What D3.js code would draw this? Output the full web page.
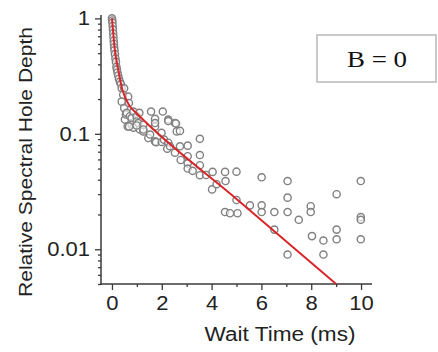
<!DOCTYPE html>
<html>
<head>
<meta charset="utf-8">
<script src="https://cdn.jsdelivr.net/npm/d3@7"></script>
<style>
  html, body { margin: 0; padding: 0; background: #fff; }
  svg { display: block; }
</style>
</head>
<body>
<svg id="chart" width="438" height="352"></svg>
<script>
// ---- Data ----
const dataX = [0.00,0.01,0.02,0.03,0.04,0.05,0.06,0.07,0.08,0.09,0.10,0.12,0.14,0.16,0.18,0.20,0.22,0.25,0.28,0.32,0.36,0.39,0.39,0.45,0.49,0.49,0.52,0.56,0.59,0.63,0.65,0.68,0.72,0.79,0.79,0.86,0.86,0.99,0.99,1.06,1.12,1.10,1.26,1.26,1.46,1.53,1.57,1.73,1.73,1.73,1.77,1.99,2.04,2.00,2.09,2.26,2.26,2.22,2.33,2.53,2.53,2.60,2.73,2.73,2.76,3.04,3.04,3.04,3.04,3.24,3.53,3.53,3.53,3.53,3.78,4.04,4.02,4.20,4.54,4.56,4.54,4.74,5.00,5.00,5.04,5.54,6.01,6.01,6.01,6.52,6.52,7.05,7.05,7.05,7.05,7.50,7.98,7.98,8.03,8.49,8.49,9.02,9.02,9.02,9.99,9.99,9.99,9.99,0.69,0.99,1.26,2.57,2.26,1.73];
const dataY = [1.00,0.96,0.92,0.86,0.80,0.74,0.69,0.64,0.60,0.56,0.53,0.49,0.45,0.42,0.38,0.36,0.34,0.32,0.30,0.283,0.27,0.249,0.19,0.218,0.248,0.167,0.133,0.147,0.152,0.116,0.21,0.185,0.142,0.137,0.12,0.156,0.113,0.142,0.128,0.124,0.109,0.152,0.105,0.12,0.092,0.0986,0.156,0.135,0.116,0.086,0.0847,0.102,0.156,0.085,0.089,0.133,0.0837,0.0743,0.078,0.124,0.0686,0.105,0.106,0.078,0.0593,0.079,0.064,0.0555,0.050,0.0478,0.0905,0.0655,0.0534,0.0438,0.044,0.0468,0.033,0.0366,0.0468,0.039,0.021,0.0205,0.047,0.0267,0.0205,0.024,0.042,0.024,0.021,0.021,0.0148,0.039,0.028,0.021,0.009,0.018,0.0236,0.021,0.013,0.0119,0.009,0.030,0.0148,0.0122,0.039,0.019,0.018,0.0122,0.116,0.118,0.109,0.123,0.129,0.124];

// fitted curve, points
const fitX = [0, 0.05, 0.10, 0.15, 0.20, 0.25, 0.32, 0.40, 0.50, 0.70, 1.0, 5.0, 9.0];
const fitY = [1.0, 0.75, 0.57, 0.47, 0.41, 0.36, 0.30, 0.25, 0.215, 0.175, 0.15, 0.0273, 0.005];

const xTicks = [0, 2, 4, 6, 8, 10];
const xMinorTicks = [1, 3, 5, 7, 9];
const yTicks = [1, 0.1, 0.01];
const yTickLabels = ["1", "0.1", "0.01"];
const yMinorTicks = [0.005,0.006,0.007,0.008,0.009,0.02,0.03,0.04,0.05,0.06,0.07,0.08,0.09,0.2,0.3,0.4,0.5,0.6,0.7,0.8,0.9];

const xTitle = "Wait Time (ms)";
const yTitle = "Relative Spectral Hole Depth";
const legendText = "B = 0";

// ---- Drawing ----
const svg = d3.select("#chart");
const axisColor = "#3a3a3a";
const font = "'Liberation Sans', Arial, sans-serif";

const x = d3.scaleLinear().domain([-0.44, 10.44]).range([101, 372]);
const y = d3.scaleLog().domain([0.005, 1.07]).range([284, 15]);

// y axis
const yAxisG = svg.append("g").attr("transform", "translate(101,0)");
yAxisG.call(d3.axisLeft(y).tickValues(yMinorTicks).tickSize(3).tickFormat(""));
yAxisG.call(g => g.select(".domain").remove());
const yMajor = svg.append("g").attr("transform", "translate(101,0)")
  .call(d3.axisLeft(y).tickValues(yTicks).tickSize(6).tickPadding(5)
    .tickFormat((d, i) => yTickLabels[i]));
yMajor.select(".domain").remove();

// x axis
const xAxisG = svg.append("g").attr("transform", "translate(0,284)");
xAxisG.call(d3.axisBottom(x).tickValues(xMinorTicks).tickSize(3).tickFormat(""));
xAxisG.select(".domain").remove();
const xMajor = svg.append("g").attr("transform", "translate(0,284)")
  .call(d3.axisBottom(x).tickValues(xTicks).tickSize(6).tickPadding(6).tickFormat(d3.format("d")));
xMajor.select(".domain").remove();

// spines
svg.append("line").attr("x1", 101).attr("x2", 101).attr("y1", 15).attr("y2", 284.75)
  .attr("stroke", axisColor).attr("stroke-width", 1.5);
svg.append("line").attr("x1", 100.25).attr("x2", 372).attr("y1", 284).attr("y2", 284)
  .attr("stroke", axisColor).attr("stroke-width", 1.5);

svg.selectAll(".tick line").attr("stroke", axisColor).attr("stroke-width", 1.3);
svg.selectAll(".tick text").attr("fill", "#222").style("font-family", font).style("font-size", "20px")
  .each(function() {
    const w = this.getComputedTextLength();
    d3.select(this).attr("textLength", w * 1.1).attr("lengthAdjust", "spacingAndGlyphs");
  });

// data circles
const pts = dataX.map((d, i) => ({x: d, y: dataY[i]}));
svg.append("g").selectAll("circle").data(pts).join("circle")
  .attr("cx", d => x(d.x)).attr("cy", d => y(d.y)).attr("r", 3.6)
  .attr("fill", "rgba(255,255,255,0.6)").attr("stroke", "#808080").attr("stroke-width", 1.4);

// fit line
const fitPts = fitX.map((d, i) => [d, fitY[i]]);
svg.append("path").datum(fitPts)
  .attr("d", d3.line().x(d => x(d[0])).y(d => y(d[1])).curve(d3.curveMonotoneX))
  .attr("fill", "none").attr("stroke", "#d8262a").attr("stroke-width", 2);

// titles
svg.append("text").attr("x", 280).attr("y", 341).attr("text-anchor", "middle")
  .attr("textLength", 151).attr("lengthAdjust", "spacingAndGlyphs")
  .style("font-family", font).style("font-size", "20px").attr("fill", "#222").text(xTitle);
svg.append("text").attr("transform", "translate(32,162) rotate(-90)").attr("text-anchor", "middle")
  .attr("textLength", 270).attr("lengthAdjust", "spacingAndGlyphs")
  .style("font-family", font).style("font-size", "19px").attr("fill", "#222").text(yTitle);

// legend box
svg.append("rect").attr("x", 317).attr("y", 35).attr("width", 119).attr("height", 47)
  .attr("fill", "#fff").attr("stroke", "#c4c4c4").attr("stroke-width", 1.8);
svg.append("text").attr("x", 377).attr("y", 67).attr("text-anchor", "middle")
  .attr("textLength", 60).attr("lengthAdjust", "spacingAndGlyphs")
  .style("font-family", "'Liberation Serif', 'Times New Roman', serif").style("font-size", "24px")
  .attr("fill", "#111").text(legendText);
</script>
</body>
</html>
